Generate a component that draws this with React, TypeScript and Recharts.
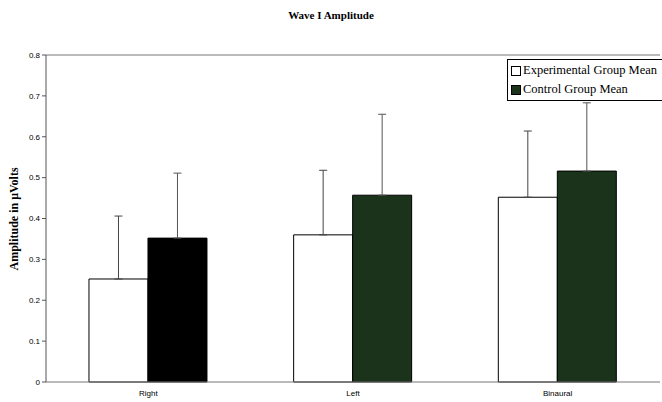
import React from 'react';
import { BarChart, Bar, XAxis, YAxis, ErrorBar, Cell, ReferenceLine } from 'recharts';

const categories = ['Right', 'Left', 'Binaural'];
const experimentalMean = [0.252, 0.36, 0.452];
const experimentalSD = [0.154, 0.158, 0.162];
const controlMean = [0.352, 0.457, 0.516];
const controlSD = [0.159, 0.198, 0.167];
const controlColors = ['#000000', '#1a331a', '#1a331a'];
const yTicks = [0, 0.1, 0.2, 0.3, 0.4, 0.5, 0.6, 0.7, 0.8];

const data = categories.map((name, i) => ({
  name,
  experimental: experimentalMean[i],
  expErr: [0, experimentalSD[i]],
  control: controlMean[i],
  ctrlErr: [0, controlSD[i]],
}));

const serif = '"Liberation Serif", "Times New Roman", serif';
const sans = '"Liberation Sans", Arial, sans-serif';

const LegendBox = () => (
  <div
    style={{
      position: 'absolute',
      top: 59,
      left: 507,
      width: 151,
      border: '1px solid #000',
      background: '#fff',
      fontFamily: serif,
      fontSize: 12.5,
      padding: '1px 0 1px 3px',
      lineHeight: '19px',
      whiteSpace: 'nowrap',
    }}
  >
    <div style={{ display: 'flex', alignItems: 'center' }}>
      <span style={{ width: 8, height: 8, border: '1px solid #000', background: '#fff', marginRight: 2 }} />
      Experimental Group Mean
    </div>
    <div style={{ display: 'flex', alignItems: 'center' }}>
      <span style={{ width: 8, height: 8, border: '1px solid #000', background: '#1a331a', marginRight: 2 }} />
      Control Group Mean
    </div>
  </div>
);

const App: React.FC = () => {
  return (
    <div style={{ position: 'absolute', left: 0, top: 0, width: 662, height: 402, background: '#fff' }}>
      <div
        style={{
          position: 'absolute',
          top: 9,
          left: 0,
          width: 662,
          textAlign: 'center',
          fontFamily: serif,
          fontWeight: 'bold',
          fontSize: 11,
        }}
      >
        Wave I Amplitude
      </div>
      <BarChart
        width={662}
        height={402}
        data={data}
        margin={{ top: 55, right: 2, left: 0, bottom: 0 }}
        barGap={0}
        barCategoryGap='21%'
      >
        <XAxis
          dataKey='name'
          height={20}
          stroke='#777'
          tickLine={false}
          tick={{ fontFamily: sans, fontSize: 8, fill: '#000' }}
        />
        <YAxis
          width={46}
          domain={[0, 0.8]}
          ticks={yTicks}
          interval={0}
          stroke='#555'
          tickSize={4}
          tickFormatter={(v: number) => String(Number(v.toFixed(1)))}
          tick={{ fontFamily: sans, fontSize: 8, fill: '#000' }}
          label={{
            value: 'Amplitude in \u03bcVolts',
            angle: -90,
            position: 'insideLeft',
            dx: 9,
            dy: 52,
            style: { fontFamily: serif, fontWeight: 'bold', fontSize: 12, fill: '#000' },
          }}
        />
        <ReferenceLine y={0.8} stroke='#777' />
        <Bar dataKey='experimental' fill='#ffffff' stroke='#000' strokeWidth={1} isAnimationActive={false}>
          <ErrorBar dataKey='expErr' width={4} stroke='#444' strokeWidth={1} direction='y' />
        </Bar>
        <Bar dataKey='control' fill='#1a331a' stroke='#000' strokeWidth={1} isAnimationActive={false}>
          {controlColors.map((c, i) => (
            <Cell key={i} fill={c} />
          ))}
          <ErrorBar dataKey='ctrlErr' width={4} stroke='#555' strokeWidth={1} direction='y' />
        </Bar>
      </BarChart>
      <LegendBox />
    </div>
  );
};

export default App;
